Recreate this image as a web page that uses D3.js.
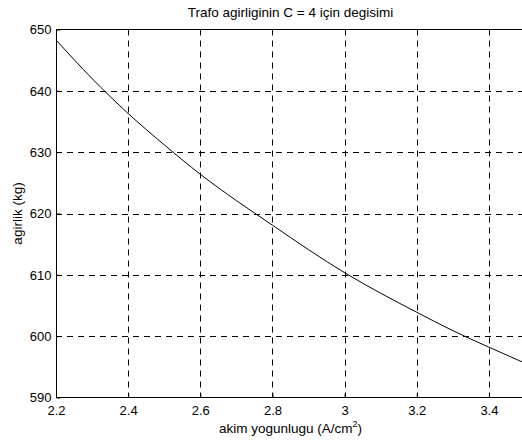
<!DOCTYPE html>
<html>
<head>
<meta charset="utf-8">
<script src="https://cdn.jsdelivr.net/npm/d3@7"></script>
<style>
  html, body { margin: 0; padding: 0; background: #fff; overflow: hidden; }
  svg { display: block; font-family: "Liberation Sans", Arial, sans-serif; }
</style>
</head>
<body>
<div id="chart"></div>
<script>
/* weight vs current density, C = 4 */
var currentDensity = [2.2, 2.3, 2.4, 2.5, 2.6, 2.7, 2.8, 2.9, 3.0, 3.1, 3.2, 3.3, 3.4, 3.5];
var weightKg       = [648.3, 642.0, 636.3, 631.2, 626.4, 622.1, 618.1, 614.1, 610.35, 607.0, 603.9, 600.9, 598.2, 595.6];
var xTicks = [2.2, 2.4, 2.6, 2.8, 3.0, 3.2, 3.4];
var yTicks = [590, 600, 610, 620, 630, 640, 650];

var W = 522, H = 443;
var mLeft = 56, mTop = 29.5, mRight = 525, mBottom = 397.5;

var svg = d3.select('#chart').append('svg').attr('width', W).attr('height', H);

var x = d3.scaleLinear().domain([2.2, 3.5]).range([mLeft, mRight]);
var y = d3.scaleLinear().domain([590, 650]).range([mBottom, mTop]);

var g = svg.append('g');

// grid
g.append('g').selectAll('line').data(xTicks.slice(1)).join('line')
    .attr('x1', function(d){ return Math.round(x(d)) + 0.5; })
    .attr('x2', function(d){ return Math.round(x(d)) + 0.5; })
    .attr('y1', mTop).attr('y2', mBottom)
    .attr('stroke', '#000').attr('stroke-width', 1).attr('stroke-dasharray', '6,5');
g.append('g').selectAll('line').data(yTicks.slice(1, -1)).join('line')
    .attr('y1', function(d){ return Math.round(y(d)) + 0.5; })
    .attr('y2', function(d){ return Math.round(y(d)) + 0.5; })
    .attr('x1', mLeft).attr('x2', mRight)
    .attr('stroke', '#000').attr('stroke-width', 1).attr('stroke-dasharray', '6,5');

// curve
var line = d3.line()
    .x(function(d, i){ return x(currentDensity[i]); })
    .y(function(d){ return y(d); })
    .curve(d3.curveMonotoneX);
g.append('path').datum(weightKg)
    .attr('d', line).attr('fill', 'none')
    .attr('stroke', '#000').attr('stroke-width', 1);

// axes box
g.append('rect')
    .attr('x', mLeft + 0.5).attr('y', mTop)
    .attr('width', mRight - mLeft).attr('height', mBottom - mTop)
    .attr('fill', 'none').attr('stroke', '#000').attr('stroke-width', 1);

// axes (ticks inward, MATLAB-style)
var xAxis = d3.axisBottom(x).tickValues(xTicks).tickSize(-4).tickPadding(8)
    .tickFormat(function(d){ return d3.format('')(+d.toFixed(1)); });
var yAxis = d3.axisLeft(y).tickValues(yTicks).tickSize(-4).tickPadding(5);

var gx = svg.append('g').attr('transform', 'translate(0,' + mBottom + ')').call(xAxis);
var gy = svg.append('g').attr('transform', 'translate(' + (mLeft + 0.5) + ',0)').call(yAxis);
[gx, gy].forEach(function(a){
    a.select('.domain').remove();
    a.selectAll('line').attr('stroke', '#000');
    a.selectAll('text').attr('fill', '#000').attr('font-size', 13)
        .style('font-family', '"Liberation Sans", Arial, sans-serif');
});

// title and labels
svg.append('text').attr('x', (mLeft + mRight) / 2).attr('y', 17)
    .attr('text-anchor', 'middle').attr('font-size', 13.5).text('Trafo agirliginin C = 4 için degisimi');

var xl = svg.append('text').attr('x', (mLeft + mRight) / 2).attr('y', 433)
    .attr('text-anchor', 'middle').attr('font-size', 13.5);
xl.append('tspan').text('akim yogunlugu (A/cm');
xl.append('tspan').attr('font-size', 9).attr('dy', -6).text('2');
xl.append('tspan').attr('dy', 6).text(')');

svg.append('text')
    .attr('transform', 'translate(22,' + ((mTop + mBottom) / 2) + ') rotate(-90)')
    .attr('text-anchor', 'middle').attr('font-size', 13.5).text('agirlik (kg)');
</script>
</body>
</html>
